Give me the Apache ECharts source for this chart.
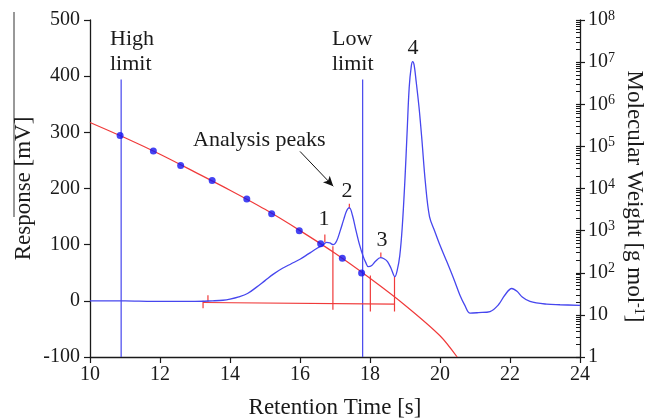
<!DOCTYPE html>
<html><head><meta charset="utf-8">
<script src="https://cdn.jsdelivr.net/npm/echarts@6/dist/echarts.min.js"></script>
<style>html,body{margin:0;padding:0;background:#fff}#c{width:648px;height:419px}</style>
</head><body><div id="c"></div>
<script>
// Chromatogram (detector response, mV)
const responseTime = [10, 11.0, 11.8, 12.5, 13.0, 13.5, 13.8, 14.0, 14.25, 14.5, 14.75, 15.0, 15.25, 15.5, 15.75, 16.0, 16.25, 16.5, 16.65, 16.76, 16.85, 16.95, 17.05, 17.15, 17.25, 17.33, 17.41, 17.5, 17.6, 17.7, 17.8, 17.88, 17.95, 18.05, 18.15, 18.3, 18.4, 18.5, 18.6, 18.71, 18.78, 18.85, 18.92, 19.0, 19.06, 19.12, 19.18, 19.22, 19.26, 19.32, 19.4, 19.48, 19.58, 19.7, 19.85, 20.0, 20.2, 20.4, 20.57, 20.71, 20.86, 21.1, 21.43, 21.67, 21.85, 22.05, 22.2, 22.35, 22.57, 23.05, 23.43, 24];
const responseMv = [0, 0, -1, -1, -1, 0, 1, 3, 7, 13, 24, 36, 48, 58, 66, 74, 84, 94, 99, 104, 103, 100, 107, 125, 145, 160, 166, 152, 125, 100, 80, 68, 61, 63, 70, 77, 75, 70, 58, 43, 55, 80, 130, 218, 300, 380, 418, 426, 420, 390, 345, 289, 212, 150, 124, 99, 69, 38, 10, -8, -22, -21, -19, -7, 10, 22, 17, 7, -1, -6, -7, -8];
// Calibration curve (molecular weight, g/mol)
const calTime = [10, 11, 12, 13, 14, 15, 16, 17, 18, 19, 20, 20.49];
const calMw = [3.7e5, 1.6e5, 6.5e4, 2.45e4, 9.1e3, 3.2e3, 1.0e3, 290, 74, 17, 3.2, 1];
// Calibration standards
const standardTime = [10.86, 11.81, 12.59, 13.49, 14.48, 15.19, 15.98, 16.59, 17.21, 17.76];
const standardMw = [1.8e5, 7.8e4, 3.5e4, 1.55e4, 5.6e3, 2.5e3, 1.0e3, 490, 220, 98];
// Integration limits
const limitTime = [10.89, 17.79];
const limitBottom = -100;
const limitTop = 394;
const limitLabels = ['High\nlimit', 'Low\nlimit'];
// Peak integration marks
const baselineTime = [13.23, 18.70];
const baselineMv = [-3, -6];
const startTickTime = [13.23, 13.37];
const startTickTop = [0, 10];
const startTickBottom = [-13, -1];
const boundaryTime = [16.94, 18.01, 18.70];
const boundaryTop = [97, 45, 43];
const boundaryBottom = [-16, -19, -19];
const apexTime = [16.71, 17.41, 18.31];
const apexTop = [118, 173, 86];
const apexBottom = [104, 164, 77];
const peakLabels = ['1', '2', '3', '4'];
const annotation = 'Analysis peaks';
const arrowFrom = [16.0, 266];
const arrowTo = [16.95, 204];
// Axis ticks
const xMin = 10, xMax = 24, xStep = 2;
const yMin = -100, yMax = 500, yStep = 100;
const mwMin = 1, mwMax = 1e8;

const FONT = '"Liberation Serif","Times New Roman",serif';
const BLUE = '#4646ee';
const RED = '#f03a3a';
const INK = '#1a1a1a';

const chart = echarts.init(document.getElementById('c'), null, {renderer: 'canvas'});

function seg(x1, y1, x2, y2, color, yAxisIndex) {
  return {type: 'line', yAxisIndex: yAxisIndex || 0, data: [[x1, y1], [x2, y2]], symbol: 'none',
    lineStyle: {color: color, width: 1.2}, silent: true, animation: false, z: 3};
}

const series = [];
series.push({
  type: 'line', name: 'response', data: responseTime.map((t, i) => [t, responseMv[i]]),
  symbol: 'none', smooth: 0.35, lineStyle: {color: BLUE, width: 1.3}, animation: false, z: 4,
  markLine: {
    silent: true, symbol: ['none', 'arrow'], symbolSize: [7, 10], animation: false,
    label: {show: false}, lineStyle: {color: '#111', type: 'solid', width: 1},
    data: [[{coord: arrowFrom}, {coord: arrowTo}]]
  }
});
series.push({
  type: 'line', name: 'calibration', yAxisIndex: 1, data: calTime.map((t, i) => [t, calMw[i]]),
  symbol: 'none', smooth: 0.3, lineStyle: {color: RED, width: 1.2}, animation: false, z: 3
});
series.push({
  type: 'scatter', yAxisIndex: 1, data: standardTime.map((t, i) => [t, standardMw[i]]),
  symbol: 'circle', symbolSize: 7, itemStyle: {color: '#1515f0'}, animation: false, z: 6
});
limitTime.forEach(t => series.push(seg(t, limitBottom, t, limitTop, BLUE)));
series.push(seg(baselineTime[0], baselineMv[0], baselineTime[1], baselineMv[1], RED));
startTickTime.forEach((t, i) => series.push(seg(t, startTickBottom[i], t, startTickTop[i], RED)));
boundaryTime.forEach((t, i) => series.push(seg(t, boundaryBottom[i], t, boundaryTop[i], RED)));
apexTime.forEach((t, i) => series.push(seg(t, apexBottom[i], t, apexTop[i], RED)));

const txt = (text, x, y, align, valign) => ({
  type: 'text', x: x, y: y, silent: true,
  style: {text: text, font: '22px ' + FONT, fill: INK, textAlign: align || 'left',
    textVerticalAlign: valign || 'top', lineHeight: 25}
});

const supRich = {s: {fontSize: 14, fontFamily: FONT, color: INK, verticalAlign: 'top', lineHeight: 14}};

const option = {
  animation: false,
  backgroundColor: '#fff',
  grid: {left: 90, right: 68, top: 20, bottom: 62, containLabel: false, outerBoundsMode: 'none'},
  xAxis: {
    type: 'value', min: xMin, max: xMax, interval: xStep,
    axisLine: {onZero: false, lineStyle: {color: INK, width: 1.3}},
    axisTick: {length: 6, lineStyle: {color: INK, width: 1.2}},
    axisLabel: {color: INK, fontSize: 20, fontFamily: FONT, margin: 8},
    splitLine: {show: false},
    name: 'Retention Time [s]', nameLocation: 'middle', nameGap: 39, nameMoveOverlap: false,
    nameTextStyle: {color: INK, fontSize: 23, fontFamily: FONT}
  },
  yAxis: [{
    type: 'value', min: yMin, max: yMax, interval: yStep,
    axisLine: {show: true, onZero: false, lineStyle: {color: INK, width: 1.3}},
    axisTick: {show: true, length: 6, lineStyle: {color: INK, width: 1.2}},
    axisLabel: {color: INK, fontSize: 20, fontFamily: FONT, margin: 10},
    splitLine: {show: false},
    name: 'Response [mV]', nameLocation: 'middle', nameGap: 55, nameMoveOverlap: false,
    nameTextStyle: {color: INK, fontSize: 23, fontFamily: FONT}
  }, {
    type: 'log', logBase: 10, min: mwMin, max: mwMax, position: 'right',
    axisLine: {show: true, onZero: false, lineStyle: {color: INK, width: 1.3}},
    axisTick: {show: true, inside: true, length: 4, lineStyle: {color: INK, width: 1.2}},
    minorTick: {show: true, splitNumber: 9, length: 4, lineStyle: {color: INK, width: 1}},
    axisLabel: {
      color: INK, fontSize: 20, fontFamily: FONT, margin: 8, lineHeight: 22,
      formatter: v => {
        const e = Math.round(Math.log10(v));
        if (e === 0) return '1';
        if (e === 1) return '10';
        return '10{s|' + e + '}';
      },
      rich: supRich
    },
    splitLine: {show: false},
    name: 'Molecular Weight [g mol{s|-1}]', nameLocation: 'middle', nameGap: 42, nameRotate: -90,
    nameMoveOverlap: false,
    nameTextStyle: {color: INK, fontSize: 23, fontFamily: FONT, lineHeight: 24, rich: supRich,
      padding: [0, 0, 0, 16]}
  }, {
    type: 'log', logBase: 10, min: mwMin, max: mwMax, position: 'right',
    axisLine: {show: false},
    axisTick: {show: true, inside: false, length: 5, lineStyle: {color: INK, width: 1.2}},
    axisLabel: {show: false},
    splitLine: {show: false}
  }],
  series: series,
  graphic: [
    txt(limitLabels[0], 110, 27),
    txt(limitLabels[1], 332, 27),
    txt(annotation, 193, 140, 'left', 'middle'),
    txt(peakLabels[0], 324, 219, 'center', 'middle'),
    txt(peakLabels[1], 347, 191, 'center', 'middle'),
    txt(peakLabels[2], 382, 240, 'center', 'middle'),
    txt(peakLabels[3], 413, 48, 'center', 'middle'),
    {type: 'line', silent: true, shape: {x1: 14, y1: 12, x2: 14, y2: 217}, style: {stroke: '#333', lineWidth: 1}}
  ]
};
chart.setOption(option);
</script>
</body></html>
